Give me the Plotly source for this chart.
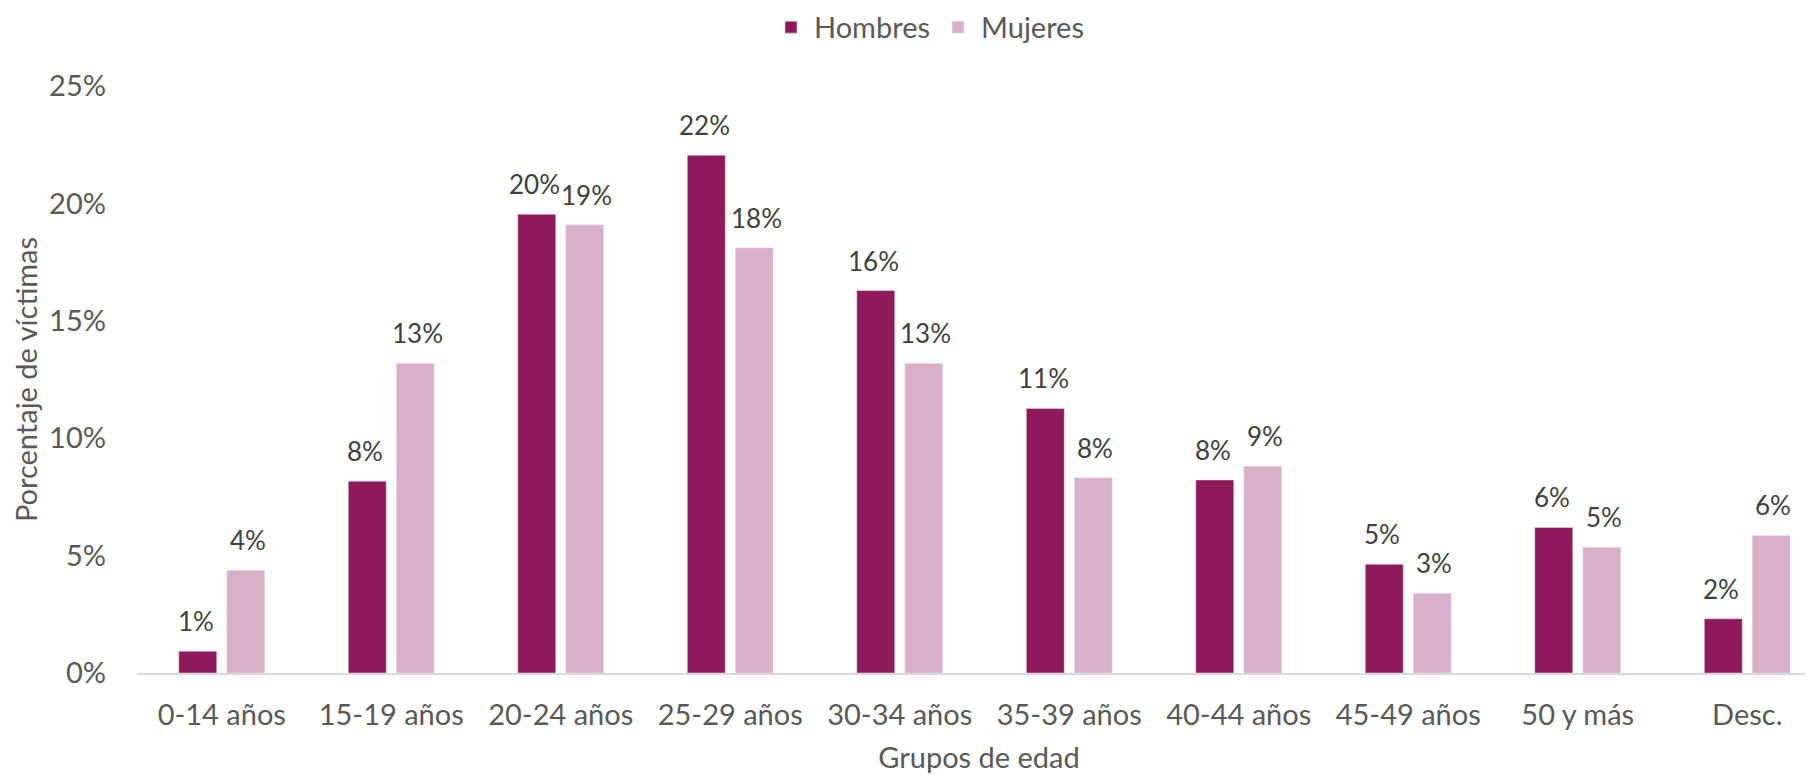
import plotly.graph_objects as go

# Datos (porcentaje de víctimas por grupo de edad)
grupos = ["0-14 años", "15-19 años", "20-24 años", "25-29 años", "30-34 años",
          "35-39 años", "40-44 años", "45-49 años", "50 y más", "Desc."]
hombres = [0.93, 8.17, 19.54, 22.05, 16.29, 11.27, 8.22, 4.63, 6.20, 2.31]
mujeres = [4.38, 13.19, 19.09, 18.11, 13.19, 8.32, 8.81, 3.40, 5.36, 5.86]
y_ticks = [0, 5, 10, 15, 20, 25]
y_labels = ["0%", "5%", "10%", "15%", "20%", "25%"]

COLOR_H = "#8E1A5C"
COLOR_M = "#D9B0C9"
GRIS = "#595959"
FONT = "Lato"
SIZE = 29

fig = go.Figure()
fig.add_trace(go.Bar(x=grupos, y=hombres, name="Hombres", marker_color=COLOR_H))
fig.add_trace(go.Bar(x=grupos, y=mujeres, name="Mujeres", marker_color=COLOR_M))

# etiquetas de datos sobre cada barra
for serie, shift in ((hombres, -26), (mujeres, 26)):
    for g, v in zip(grupos, serie):
        fig.add_annotation(x=g, y=v, text=f"{v:.0f}%", showarrow=False,
                           xshift=shift, yshift=12, yanchor="bottom",
                           font=dict(family=FONT, size=26, color="#404040"))

fig.update_layout(
    width=1813, height=775,
    margin=dict(l=129, r=0, t=78, b=110, autoexpand=False),
    paper_bgcolor="white", plot_bgcolor="white",
    barmode="group", bargap=0.434, bargroupgap=0.208,
    font=dict(family=FONT, size=SIZE, color=GRIS),
    legend=dict(orientation="h", x=0.47, xanchor="center", y=1.1,
                yanchor="middle", font=dict(size=SIZE, color=GRIS),
                itemwidth=36),
    showlegend=True,
)
fig.update_xaxes(range=[-0.5, 9.435], showline=True, linecolor="#D9D9D9",
                 linewidth=2, ticks="", ticklabelstandoff=15, automargin=False,
                 title=dict(text="Grupos de edad", standoff=18,
                            font=dict(size=SIZE, color=GRIS)))
fig.update_yaxes(range=[0, 25], tickvals=y_ticks, ticktext=y_labels,
                 showgrid=False, zeroline=False, showline=False,
                 ticklabelstandoff=30, automargin=False,
                 title=dict(text="Porcentaje de víctimas", standoff=8,
                            font=dict(size=SIZE, color=GRIS)))

fig.write_html("out.html")
